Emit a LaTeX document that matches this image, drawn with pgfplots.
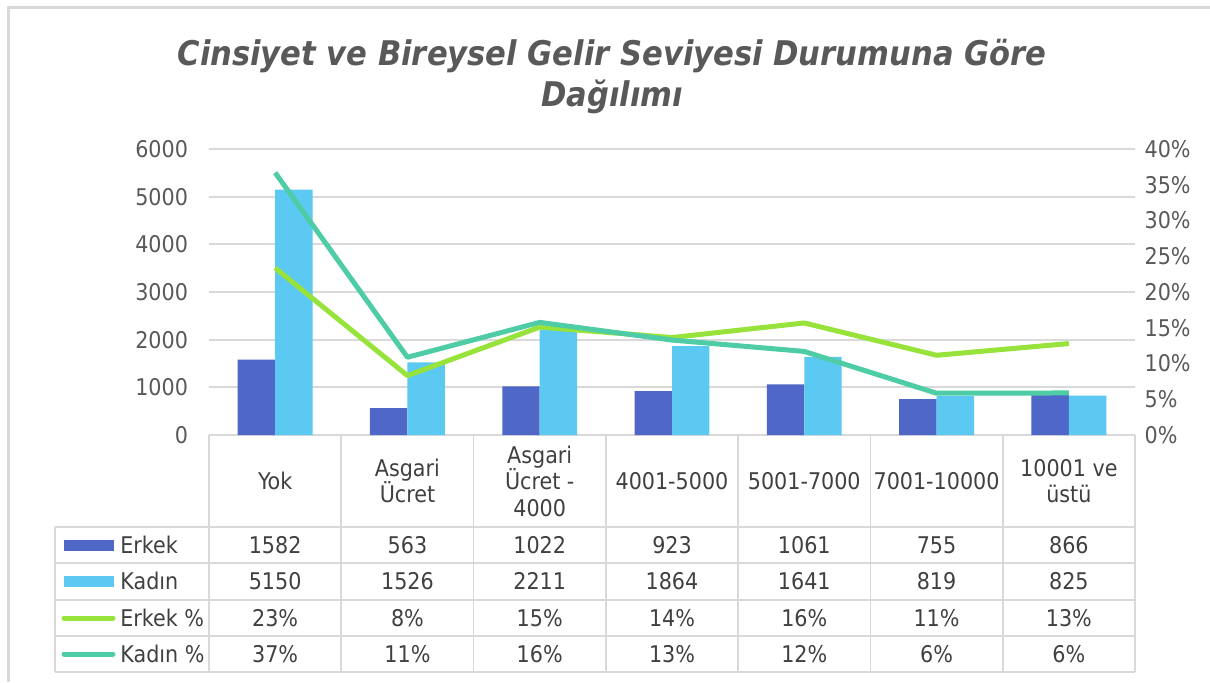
\documentclass[border=0pt]{standalone}
\usepackage{pgfplots}
\pgfplotsset{compat=1.18}
\usepackage{fontspec}
\setmainfont{DejaVu Sans Condensed}
\newfontfamily\titlefont{DejaVu Sans Condensed}
\definecolor{erkek}{HTML}{4F67C6}
\definecolor{kadin}{HTML}{5BC9F1}
\definecolor{erkekp}{HTML}{98E23C}
\definecolor{kadinp}{HTML}{4ECCA5}
\definecolor{gridc}{HTML}{D9D9D9}
\definecolor{txt}{HTML}{595959}
\definecolor{tabtxt}{HTML}{404040}
\begin{document}
\begin{tikzpicture}[x=0.5pt,y=0.5pt]
\useasboundingbox (0,0) rectangle (1210,682);
\draw[gridc, line width=1.5pt] (8,0) -- (8,674) -- (1210,674);
\coordinate (A) at (209,247);
% title
\node[font=\titlefont\bfseries\itshape\fontsize{17}{20.5}\selectfont, text=txt, align=center] at (612,605) {Cinsiyet ve Bireysel Gelir Seviyesi Durumuna Göre\\Dağılımı};
\begin{axis}[name=main, at={(A)}, anchor=south west,
  width=463pt, height=143pt, scale only axis,
  xmin=-0.5, xmax=6.5, ymin=0, ymax=6000,
  ytick={0,1000,2000,3000,4000,5000,6000}, xtick=\empty,
  axis line style={draw=none}, tick style={draw=none},
  ymajorgrids, grid style={gridc, line width=0.9pt},
  yticklabel style={font=\fontsize{11.5}{13}\selectfont, text=txt, xshift=-7pt},
  /pgf/number format/assume math mode=true,
  /pgf/number format/1000 sep={},
  ybar=0pt, bar width=0.283, clip=false]
\addplot[fill=erkek, draw=none] coordinates {(0,1582) (1,563) (2,1022) (3,923) (4,1061) (5,755) (6,866)};
\addplot[fill=kadin, draw=none] coordinates {(0,5150) (1,1526) (2,2211) (3,1864) (4,1641) (5,819) (6,825)};
\end{axis}
\begin{axis}[at={(A)}, anchor=south west,
  width=463pt, height=143pt, scale only axis,
  xmin=-0.5, xmax=6.5, ymin=0, ymax=0.4,
  axis line style={draw=none}, tick style={draw=none},
  xtick=\empty, yticklabel pos=right,
  ytick={0,0.05,0.1,0.15,0.2,0.25,0.3,0.35,0.4},
  yticklabels={0\%,5\%,10\%,15\%,20\%,25\%,30\%,35\%,40\%},
  yticklabel style={font=\fontsize{11.5}{13}\selectfont, text=txt, xshift=1.3pt},
  clip=false]
\addplot[erkekp, line width=2.5pt, line join=round] coordinates {(0,0.2336) (1,0.0831) (2,0.1509) (3,0.1363) (4,0.1567) (5,0.1115) (6,0.1279)};
\addplot[kadinp, line width=2.5pt, line join=round] coordinates {(0,0.3669) (1,0.1087) (2,0.1575) (3,0.1328) (4,0.1169) (5,0.0584) (6,0.0588)};
\end{axis}
% data table
\begin{scope}[gridc, line width=0.9pt]
\foreach \k in {0,...,7} \draw ({209+132.286*\k},247) -- ({209+132.286*\k},10);
\draw (55,155) -- (55,10);
\foreach \yy in {155,119,82,46,10} \draw (55,\yy) -- (1135,\yy);
\end{scope}
\begin{scope}[every node/.style={font=\fontsize{11.5}{13.25}\selectfont, text=tabtxt, align=center}]
\foreach \i/\t in {0/Yok,1/{Asgari\\Ücret},2/{Asgari\\Ücret -\\4000},3/4001-5000,4/5001-7000,5/7001-10000,6/{10001 ve\\üstü}}
  \node at ({209+132.286*(\i+0.5)},201) {\t};
\foreach \i/\t in {0/1582,1/563,2/1022,3/923,4/1061,5/755,6/866}
  \node at ({209+132.286*(\i+0.5)},137) {\t};
\foreach \i/\t in {0/5150,1/1526,2/2211,3/1864,4/1641,5/819,6/825}
  \node at ({209+132.286*(\i+0.5)},101) {\t};
\foreach \i/\t in {0/23,1/8,2/15,3/14,4/16,5/11,6/13}
  \node at ({209+132.286*(\i+0.5)},64) {\t\%};
\foreach \i/\t in {0/37,1/11,2/16,3/13,4/12,5/6,6/6}
  \node at ({209+132.286*(\i+0.5)},28) {\t\%};
\fill[erkek] (64,131.5) rectangle (114,142.5);
\fill[kadin] (64,95.5) rectangle (114,106.5);
\draw[erkekp, line width=2.5pt, line cap=round] (64,64) -- (113,64);
\draw[kadinp, line width=2.5pt, line cap=round] (64,28) -- (113,28);
\node[anchor=west, inner sep=0pt] at (120,137) {Erkek};
\node[anchor=west, inner sep=0pt] at (120,101) {Kadın};
\node[anchor=west, inner sep=0pt] at (120,64) {Erkek \%};
\node[anchor=west, inner sep=0pt] at (120,28) {Kadın \%};
\end{scope}
\end{tikzpicture}
\end{document}
